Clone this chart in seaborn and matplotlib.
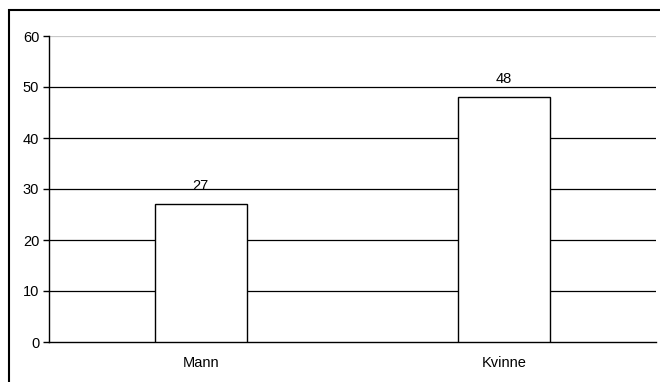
import matplotlib
matplotlib.use("Agg")
import matplotlib.pyplot as plt
import seaborn as sns
import pandas as pd
from matplotlib.patches import Rectangle
from matplotlib.ticker import FixedLocator

categories = ["Mann", "Kvinne"]
values = [27, 48]
y_ticks = [0, 10, 20, 30, 40, 50, 60]

sns.set_theme(style="white")
plt.rcParams["font.family"] = ["Liberation Sans", "DejaVu Sans"]

df = pd.DataFrame({"kjonn": categories, "verdi": values})

fig = plt.figure(figsize=(6.6, 3.82), dpi=100)
ax = fig.add_axes([49 / 660, 1 - 342 / 382, 607 / 660, 306 / 382])

sns.barplot(data=df, x="kjonn", y="verdi", ax=ax, color="white",
            edgecolor="black", linewidth=1.0, width=0.303, saturation=1, zorder=3)

ax.set_xlim(-0.5, 1.5)
ax.set_ylim(0, 60)
ax.set_yticks(y_ticks)
ax.set_yticklabels([str(t) for t in y_ticks], fontsize=10.5, color="black")
ax.set_xlabel("")
ax.set_ylabel("")
ax.tick_params(axis="x", which="major", length=0, pad=10, labelsize=10.5, labelcolor="black")
ax.xaxis.set_minor_locator(FixedLocator([0.5, 1.5]))
ax.tick_params(axis="x", which="minor", length=4, width=1, color="black", direction="out")
ax.tick_params(axis="y", length=4, width=1, color="black", direction="out", left=True, pad=3)

# horizontal gridlines: top one light grey, the rest black
for t in y_ticks[1:]:
    ax.axhline(t, color="#c8c8c8" if t == 60 else "black", linewidth=0.9, zorder=1)

for s in ["top", "right"]:
    ax.spines[s].set_visible(False)
for s in ["left", "bottom"]:
    ax.spines[s].set_color("black")
    ax.spines[s].set_linewidth(1.0)

for i, v in enumerate(values):
    ax.annotate(str(v), (i, v), xytext=(0, 8), textcoords="offset points",
                ha="center", va="bottom", fontsize=10.5, color="black")

# frame around the chart area
fig.patches.append(Rectangle((9 / 660, -0.1), 1.2, 1 - 10 / 382 + 0.1,
                             transform=fig.transFigure, fill=False,
                             edgecolor="black", linewidth=1.5))

fig.savefig("out.png", dpi=100)
